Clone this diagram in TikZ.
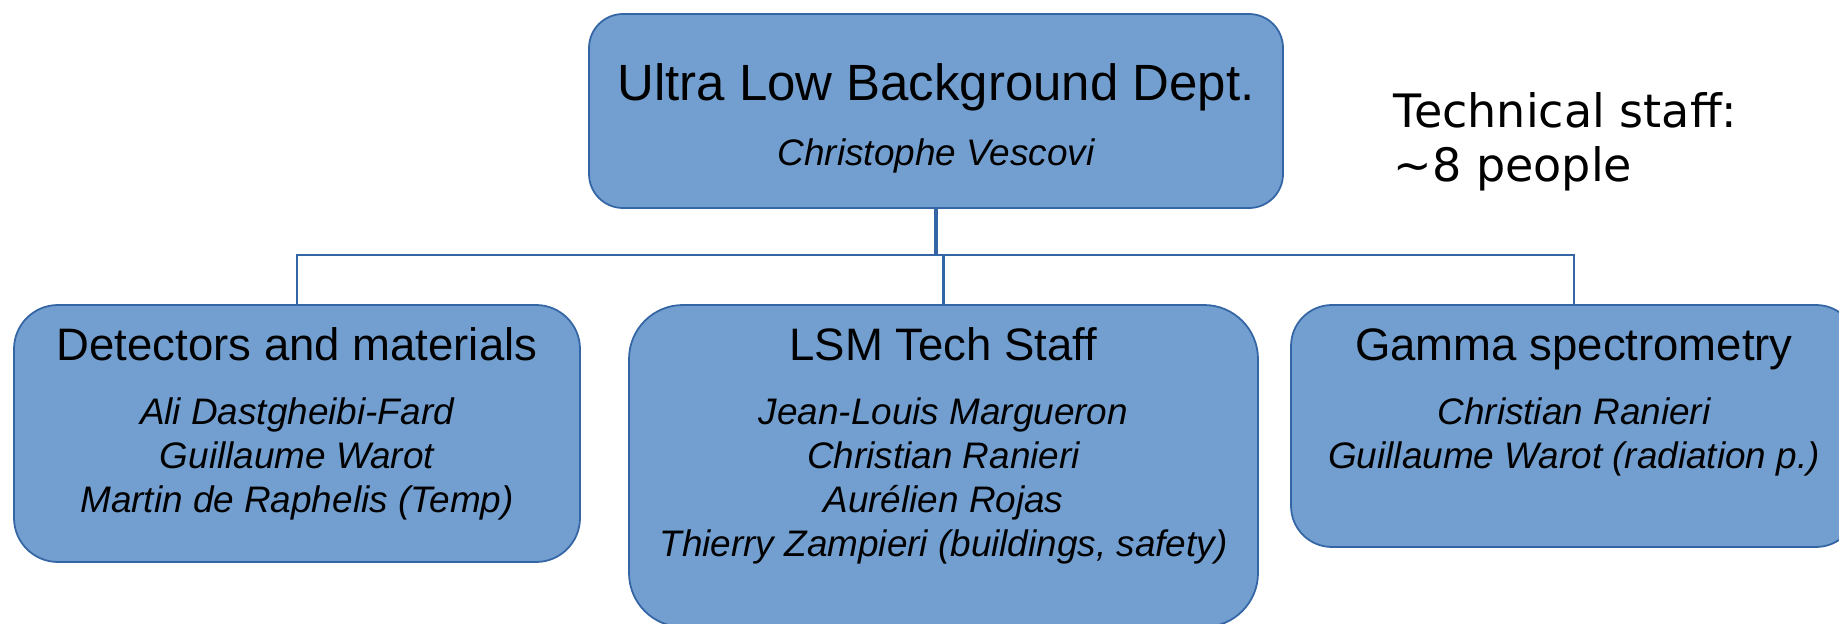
\documentclass[tikz,border=0pt]{standalone}
\usepackage{fontspec}
\setmainfont{Liberation Sans}
\newfontfamily\dejavu{DejaVu Sans}
\usetikzlibrary{positioning}
\definecolor{boxfill}{RGB}{114,159,207}
\definecolor{boxline}{RGB}{52,101,164}

\begin{document}
\begin{tikzpicture}[
	unit/.style = {draw = boxline, fill = boxfill, line width = 0.5pt, inner sep = 0pt},
	head/.style = {font = \fontsize{12.95}{15}\selectfont, inner sep = 0pt, anchor = base},
	names/.style = {font = \fontsize{10.5}{12.5}\selectfont\itshape, align = center, inner sep = 0pt, anchor = north},
	link/.style = {draw = boxline, line width = 0.8pt}]
			\useasboundingbox (0,0) rectangle (18.39,-6.24);
			% department
			\node[unit, rounded corners = 0.34cm, minimum width = 6.94cm, minimum height = 1.94cm] (dept) at (9.36,-1.11) {};
			\node[head, font = \fontsize{14.5}{17}\selectfont] (depttitle) at (9.36,-1.01) {Ultra Low Background Dept.};
			\node[head, font = \fontsize{10.5}{12.5}\selectfont\itshape] (deptchief) at (9.36,-1.66) {Christophe Vescovi};
			\node[font = \dejavu\fontsize{13.1}{15.3}\selectfont, align = left, anchor = north west, inner sep = 0pt] (staff) at (13.93,-0.92) {Technical staff:\\\textasciitilde8 people};
			% groups
			\node[unit, rounded corners = 0.44cm, minimum width = 5.66cm, minimum height = 2.57cm] (det) at (2.97,-4.335) {};
			\node[unit, rounded corners = 0.54cm, minimum width = 6.29cm, minimum height = 3.22cm] (lsm) at (9.435,-4.66) {};
			\node[unit, rounded corners = 0.41cm, minimum width = 5.66cm, minimum height = 2.42cm] (gam) at (15.74,-4.26) {};
			\node[head] (dethead) at (2.97,-3.61) {Detectors and materials};
			\node[head] (lsmhead) at (9.435,-3.61) {LSM Tech Staff};
			\node[head] (gamhead) at (15.74,-3.61) {Gamma spectrometry};
			\node[names] (detnames) at (2.97,-3.97) {Ali Dastgheibi-Fard\\Guillaume Warot\\Martin de Raphelis (Temp)};
			\node[names] (lsmnames) at (9.435,-3.97) {Jean-Louis Margueron\\Christian Ranieri\\Aurélien Rojas\\Thierry Zampieri (buildings, safety)};
			\node[names] (gamnames) at (15.74,-3.97) {Christian Ranieri\\Guillaume Warot (radiation p.)};
			% tree
			\coordinate (split) at (9.36,-2.55);
			\draw[link, line width = 1pt] (dept.south) -- (split);
			\draw[link] (det.north) |- (split) -| (gam.north);
			\draw[link] (lsm.north) -- (lsm.north |- split);
\end{tikzpicture}
\end{document}
